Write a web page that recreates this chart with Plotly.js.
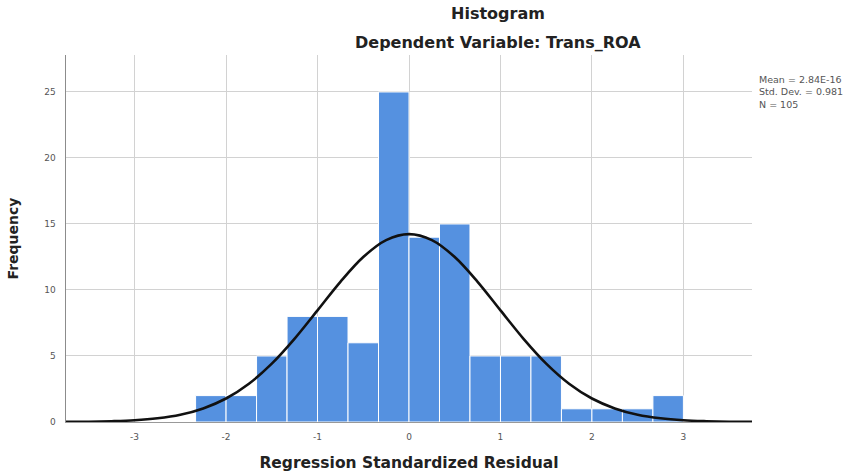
<!DOCTYPE html>
<html>
<head>
<meta charset="utf-8">
<script src="https://cdn.plot.ly/plotly-3.0.1.min.js"></script>
<style>html,body{margin:0;padding:0;background:#fff;}#chart{width:860px;height:474px;}</style>
</head>
<body>
<div id="chart"></div>
<script>
// Histogram bins (left edges) and counts, width 1/3
var binLeftEdges = [-2.3333, -2.0, -1.6667, -1.3333, -1.0, -0.6667, -0.3333, 0.0,
                    0.3333, 0.6667, 1.0, 1.3333, 1.6667, 2.0, 2.3333, 2.6667];
var binWidth = 1 / 3;
var counts = [2, 2, 5, 8, 8, 6, 25, 14, 15, 5, 5, 5, 1, 1, 1, 2];

// Normal curve
var curveX = [-3.75, -3.5, -3.25, -3.0, -2.75, -2.5, -2.25, -2.0, -1.75, -1.5, -1.25, -1.0, -0.75, -0.5, -0.25,
              0, 0.25, 0.5, 0.75, 1.0, 1.25, 1.5, 1.75, 2.0, 2.25, 2.5, 2.75, 3.0, 3.25, 3.5, 3.75];
var curveY = [0.01, 0.02, 0.06, 0.13, 0.28, 0.55, 1.03, 1.78, 2.90, 4.42, 6.32, 8.46, 10.62, 12.50, 13.78,
              14.23, 13.78, 12.50, 10.62, 8.46, 6.32, 4.42, 2.90, 1.78, 1.03, 0.55, 0.28, 0.13, 0.06, 0.02, 0.01];

var xTickVals = [-3, -2, -1, 0, 1, 2, 3];
var xTickText = ["-3", "-2", "-1", "0", "1", "2", "3"];
var yTickVals = [0, 5, 10, 15, 20, 25];
var yTickText = ["0", "5", "10", "15", "20", "25"];

var statLines = ["Mean = 2.84E-16", "Std. Dev. = 0.981", "N = 105"];
var titleLine1 = "Histogram";
var titleLine2 = "Dependent Variable: Trans_ROA";
var xTitle = "Regression Standardized Residual";
var yTitle = "Frequency";

var binCenters = binLeftEdges.map(function (e) { return e + binWidth / 2; });

var bars = {
  type: "bar",
  x: binCenters,
  y: counts,
  width: binWidth,
  marker: { color: "#5591e0", line: { color: "#ffffff", width: 1 } },
  hoverinfo: "x+y",
  showlegend: false
};

var curve = {
  type: "scatter",
  mode: "lines",
  x: curveX,
  y: curveY,
  line: { color: "#111111", width: 2.6, shape: "spline" },
  showlegend: false
};

var ann = [
  { text: "<b>" + titleLine1 + "</b>", xref: "paper", yref: "paper", x: 0.63, y: 1.113,
    xanchor: "center", yanchor: "middle", showarrow: false,
    font: { family: "DejaVu Sans", size: 16, color: "#222" } },
  { text: "<b>" + titleLine2 + "</b>", xref: "paper", yref: "paper", x: 0.63, y: 1.035,
    xanchor: "center", yanchor: "middle", showarrow: false,
    font: { family: "DejaVu Sans", size: 16, color: "#222" } },
  { text: statLines.join("<br>"), xref: "paper", yref: "paper", x: 1.009, y: 0.899,
    xanchor: "left", yanchor: "middle", align: "left", showarrow: false, borderpad: 0,
    font: { family: "DejaVu Sans", size: 9.5, color: "#555" } }
];

var layout = {
  width: 860, height: 474,
  margin: { l: 66, r: 108, t: 55, b: 52, pad: 0 },
  paper_bgcolor: "#ffffff", plot_bgcolor: "#ffffff",
  bargap: 0,
  xaxis: {
    range: [-3.75, 3.75], tickvals: xTickVals, ticktext: xTickText,
    showgrid: true, gridcolor: "#d2d2d2", gridwidth: 1, zeroline: false,
    showline: true, linecolor: "#999", linewidth: 1, ticks: "",
    tickfont: { family: "DejaVu Sans", size: 9, color: "#555" },
    ticklabelstandoff: 6, automargin: false,
    title: { text: "<b>" + xTitle + "</b>", font: { family: "DejaVu Sans", size: 15.5, color: "#222" }, standoff: 16 }
  },
  yaxis: {
    range: [0, 27.8], tickvals: yTickVals, ticktext: yTickText,
    showgrid: true, gridcolor: "#d2d2d2", gridwidth: 1, zeroline: false,
    showline: true, linecolor: "#8c8c8c", linewidth: 1.5, ticks: "",
    tickfont: { family: "DejaVu Sans", size: 9, color: "#555" },
    ticklabelstandoff: 7, automargin: false,
    title: { text: "<b>" + yTitle + "</b>", font: { family: "DejaVu Sans", size: 14, color: "#222" }, standoff: 22 }
  },
  annotations: ann
};

Plotly.newPlot("chart", [bars, curve], layout, { displayModeBar: false, staticPlot: true });
</script>
</body>
</html>
